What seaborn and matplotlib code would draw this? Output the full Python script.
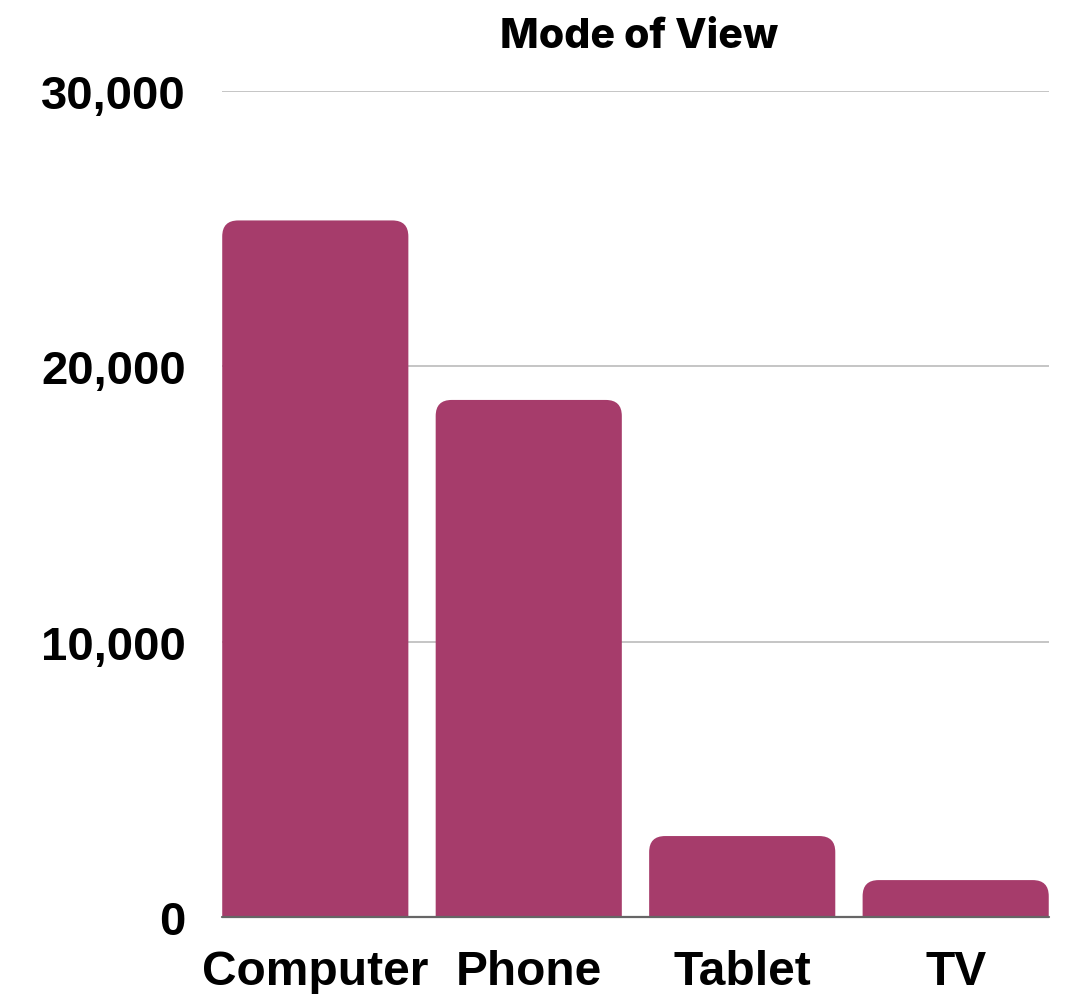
import matplotlib
matplotlib.use("Agg")
import matplotlib.pyplot as plt
import seaborn as sns
import pandas as pd
from matplotlib.patches import FancyBboxPatch
from matplotlib.ticker import FuncFormatter

# data
modes = ["Computer", "Phone", "Tablet", "TV"]
views = [25300, 18780, 2940, 1340]
bar_color = "#A63C6B"

df = pd.DataFrame({"mode": modes, "views": views})

sns.set_style("white")
plt.rcParams["font.family"] = ["Liberation Sans", "DejaVu Sans"]
plt.rcParams["text.color"] = "black"
plt.rcParams["xtick.color"] = "black"
plt.rcParams["ytick.color"] = "black"

fig = plt.figure(figsize=(10.73, 9.95), dpi=100)
ax = fig.add_axes([0.2069, 0.0774, 0.7707, 0.8301])

sns.barplot(data=df, x="mode", y="views", color=bar_color, width=0.872,
            saturation=1, ax=ax, zorder=2)

ax.set_xlim(-0.437, 3.437)
ax.set_ylim(0, 30000)
ax.set_yticks([0, 10000, 20000, 30000])
ax.yaxis.set_major_formatter(FuncFormatter(lambda v, p: f"{int(v):,}"))

# rounded tops: swap each rectangle for a rounded box that dips below 0
fig.canvas.draw()
px_x = ax.transData.transform((1, 0))[0] - ax.transData.transform((0, 0))[0]
px_y = ax.transData.transform((0, 1))[1] - ax.transData.transform((0, 0))[1]
r_px = 16
r_x = r_px / px_x
aspect = px_x / px_y
for p in list(ax.patches):
    x0, w, h = p.get_x(), p.get_width(), p.get_height()
    p.remove()
    dip = 2 * r_px / px_y
    box = FancyBboxPatch((x0, -dip), w, h + dip,
                         boxstyle=f"round,pad=0,rounding_size={r_x}",
                         mutation_aspect=aspect, facecolor=bar_color,
                         edgecolor="none", zorder=2, clip_on=True)
    ax.add_patch(box)

for v in [10000, 20000, 30000]:
    ax.axhline(v, color="#C0C0C0", lw=1.3, zorder=1)
ax.axhline(0, color="#666666", lw=1.6, zorder=3, clip_on=False)

for s in ax.spines.values():
    s.set_visible(False)
ax.tick_params(axis="both", length=0, labelcolor="black")
ax.tick_params(axis="y", pad=26, labelsize=34)
ax.tick_params(axis="x", pad=23, labelsize=34.5)
for lab in ax.get_xticklabels() + ax.get_yticklabels():
    lab.set_fontweight("bold")
ax.set_xlabel("")
ax.set_ylabel("")

fig.text(0.596, 0.963, "Mode of View", ha="center", va="center", color="black",
         fontsize=29.5, fontweight="heavy", family=["Inter", "DejaVu Sans"])

fig.savefig("out.png", dpi=100)
